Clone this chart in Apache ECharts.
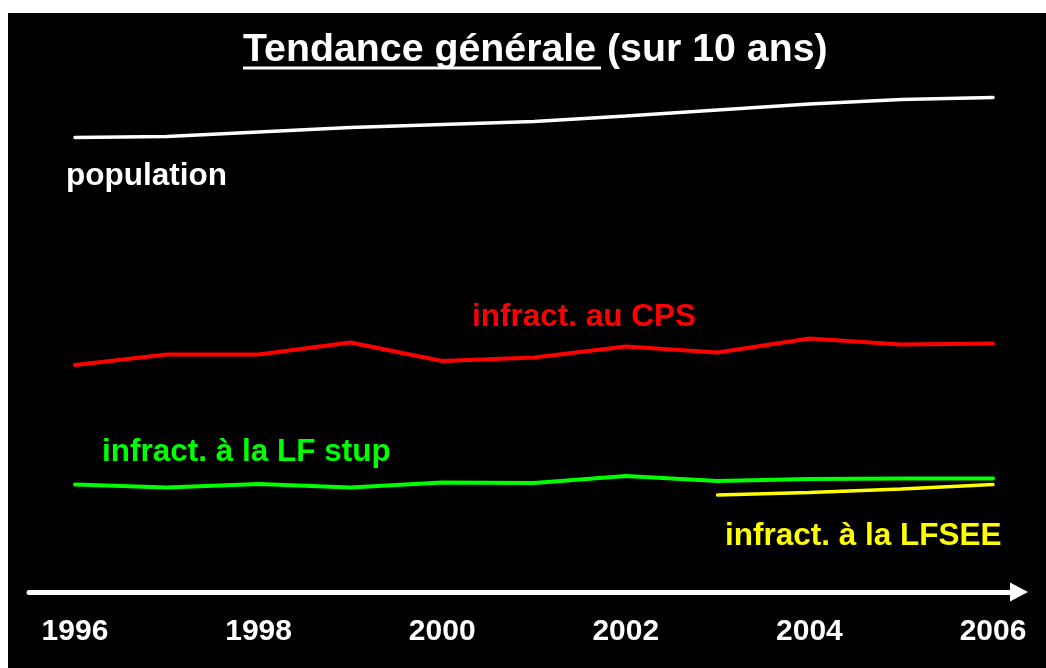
<!DOCTYPE html>
<html>
<head>
<meta charset="utf-8">
<script src="https://cdn.jsdelivr.net/npm/echarts@6/dist/echarts.min.js"></script>
<style>
  html, body { margin: 0; padding: 0; background: #fff; }
  #chart { position: absolute; left: 8px; top: 13px; width: 1038px; height: 655px; }
</style>
</head>
<body>
<div id="chart"></div>
<script>
// Années et valeurs (indices relatifs)
var years = [1996, 1997, 1998, 1999, 2000, 2001, 2002, 2003, 2004, 2005, 2006];
var tickYears = [1996, 1998, 2000, 2002, 2004, 2006];
var population = [90.9, 91.1, 92.0, 92.9, 93.5, 94.1, 95.2, 96.4, 97.6, 98.5, 98.9];
var infractCPS = [45.4, 47.5, 47.5, 49.9, 46.2, 46.9, 49.1, 47.9, 50.7, 49.5, 49.7];
var infractStup = [21.5, 20.9, 21.6, 20.9, 21.9, 21.8, 23.2, 22.2, 22.6, 22.7, 22.7];
var lfseeYears = [2003, 2004, 2005, 2006];
var infractLFSEE = [19.4, 19.9, 20.6, 21.5];

function pairs(xs, ys) {
  return xs.map(function (x, i) { return [x, ys[i]]; });
}

var chart = echarts.init(document.getElementById('chart'));
var fontFam = '"Liberation Sans", Arial, sans-serif';

// Création d'une série ligne
function lineSeries(name, data, color, width) {
  return {
    name: name,
    type: 'line',
    data: data,
    symbol: 'none',
    lineStyle: { color: color, width: width, cap: 'round' },
    silent: true
  };
}

var option = {
  backgroundColor: '#000',
  animation: false,
  grid: { left: 21, right: 27, top: 79, bottom: 76 },
  xAxis: {
    type: 'value',
    min: 1995.499,
    max: 2006.283,
    axisLine: {
      show: true,
      symbol: ['none', 'triangle'],
      symbolSize: [19, 18],
      lineStyle: { color: '#fff', width: 5 }
    },
    axisTick: { show: false },
    splitLine: { show: false },
    axisLabel: {
      customValues: tickYears,
      color: '#fff',
      fontSize: 30,
      fontWeight: 'bold',
      fontFamily: fontFam,
      margin: 25,
      formatter: function (v) { return String(v); }
    }
  },
  yAxis: {
    type: 'value',
    min: 0,
    max: 100,
    show: false
  },
  graphic: [
    {
      type: 'text', x: 235, y: 37.5,
      style: {
        text: 'Tendance générale (sur 10 ans)',
        fill: '#fff',
        font: 'bold 39.3px ' + fontFam,
        verticalAlign: 'middle'
      }
    },
    { type: 'rect', shape: { x: 235, y: 53.5, width: 358, height: 3 }, style: { fill: '#fff' } },
    {
      type: 'text', x: 58, y: 163,
      style: { text: 'population', fill: '#fff', font: 'bold 31.5px ' + fontFam, verticalAlign: 'middle' }
    },
    {
      type: 'text', x: 464, y: 304,
      style: { text: 'infract. au CPS', fill: '#ff0000', font: 'bold 31.5px ' + fontFam, verticalAlign: 'middle' }
    },
    {
      type: 'text', x: 94, y: 439,
      style: { text: 'infract. à la LF stup', fill: '#00ff00', font: 'bold 31.5px ' + fontFam, verticalAlign: 'middle' }
    },
    {
      type: 'text', x: 717, y: 523,
      style: { text: 'infract. à la LFSEE', fill: '#ffff00', font: 'bold 31.5px ' + fontFam, verticalAlign: 'middle' }
    }
  ],
  series: [
    lineSeries('population', pairs(years, population), '#ffffff', 3.5),
    lineSeries('infract. au CPS', pairs(years, infractCPS), '#ff0000', 4),
    lineSeries('infract. à la LF stup', pairs(years, infractStup), '#00ff00', 4),
    lineSeries('infract. à la LFSEE', pairs(lfseeYears, infractLFSEE), '#ffff00', 3.5)
  ]
};

chart.setOption(option);
</script>
</body>
</html>
